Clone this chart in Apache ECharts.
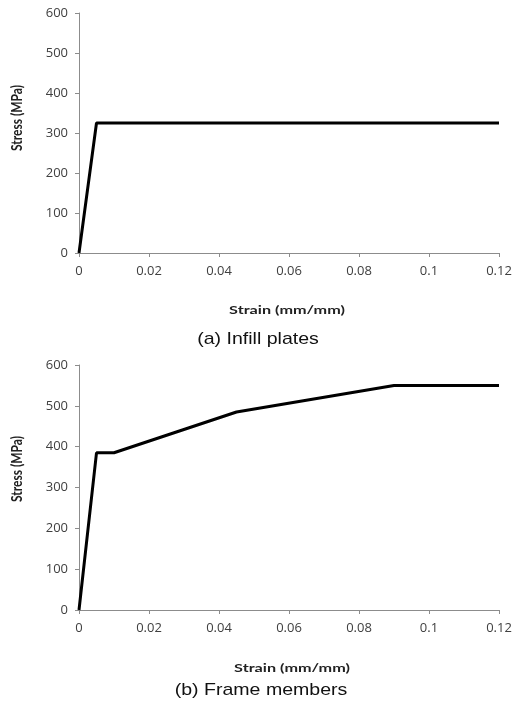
<!DOCTYPE html>
<html>
<head>
<meta charset="utf-8">
<script src="https://cdn.jsdelivr.net/npm/echarts@6/dist/echarts.min.js"></script>
<style>
  html, body { margin: 0; padding: 0; background: #fff; }
  #chart { width: 517px; height: 713px; }
</style>
</head>
<body>
<div id="chart"></div>
<script>
// (a) infill plates: strain / stress
const infillStrain = [0, 0.005, 0.12];
const infillStress = [0, 325, 325];
// (b) frame members
const frameStrain = [0, 0.005, 0.01, 0.045, 0.09, 0.12];
const frameStress = [0, 385, 385, 485, 550, 550];

const strainTicks = ['0', '0.02', '0.04', '0.06', '0.08', '0.1', '0.12'];
const stressTicks = ['0', '100', '200', '300', '400', '500', '600'];
const captions = ['(a) Infill plates', '(b) Frame members'];

const font = '"Open Sans", Lato, sans-serif';
const titleFont = 'Lato, "Open Sans", sans-serif';

function pairs(xs, ys) {
  return xs.map((x, i) => [x, ys[i]]);
}

function xAx(idx) {
  return {
    gridIndex: idx, type: 'value', min: 0, max: 0.12, interval: 0.02,
    axisLine: { lineStyle: { color: '#8c8c8c', width: 1 } },
    axisTick: { show: true, length: 4, lineStyle: { color: '#8c8c8c' } },
    splitLine: { show: false },
    axisLabel: {
      color: '#404040', fontSize: 13, fontFamily: font, margin: 12,
      formatter: v => strainTicks[Math.round(v / 0.02)]
    }
  };
}

function yAx(idx) {
  return {
    gridIndex: idx, type: 'value', min: 0, max: 600, interval: 100,
    axisLine: { show: true, lineStyle: { color: '#8c8c8c', width: 1 } },
    axisTick: { show: true, length: 4, lineStyle: { color: '#8c8c8c' } },
    splitLine: { show: false },
    axisLabel: {
      color: '#404040', fontSize: 13, fontFamily: font, margin: 11,
      formatter: v => stressTicks[Math.round(v / 100)]
    }
  };
}

function yTitle(x, y) {
  return {
    type: 'text', x: x, y: y, rotation: Math.PI / 2, scaleY: 1.3,
    style: {
      text: 'Stress (MPa)', font: 'bold 12px ' + titleFont, fill: '#222',
      align: 'center', verticalAlign: 'middle'
    }
  };
}

function xTitle(x, y) {
  return {
    type: 'text', x: x, y: y, scaleX: 1.35,
    style: {
      text: 'Strain (mm/mm)', font: 'bold 12px ' + titleFont, fill: '#222',
      align: 'center', verticalAlign: 'middle'
    }
  };
}

function caption(text, x, y) {
  return {
    type: 'text', x: x, y: y, scaleX: 1.15,
    style: {
      text: text, font: '17px Arial, "Liberation Sans", sans-serif', fill: '#111',
      align: 'center', verticalAlign: 'middle'
    }
  };
}

const chart = echarts.init(document.getElementById('chart'));
chart.setOption({
  backgroundColor: '#fff',
  animation: false,
  grid: [
    { left: 79, top: 13, width: 420, height: 240 },
    { left: 79, top: 365, width: 420, height: 245 }
  ],
  xAxis: [xAx(0), xAx(1)],
  yAxis: [yAx(0), yAx(1)],
  series: [
    {
      type: 'line', xAxisIndex: 0, yAxisIndex: 0, showSymbol: false,
      lineStyle: { color: '#000', width: 3 },
      data: pairs(infillStrain, infillStress)
    },
    {
      type: 'line', xAxisIndex: 1, yAxisIndex: 1, showSymbol: false,
      lineStyle: { color: '#000', width: 3 },
      data: pairs(frameStrain, frameStress)
    }
  ],
  graphic: [
    yTitle(17, 118),
    xTitle(287, 310),
    caption(captions[0], 258, 339),
    yTitle(17, 469),
    xTitle(292, 668),
    caption(captions[1], 261, 690)
  ]
});
</script>
</body>
</html>
